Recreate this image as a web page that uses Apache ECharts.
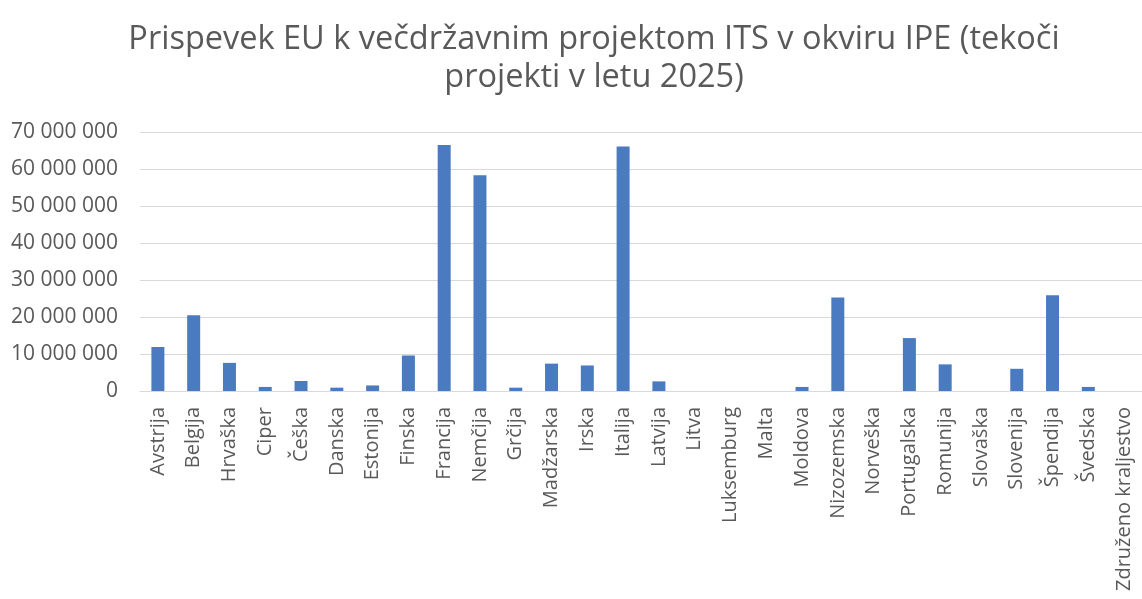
<!DOCTYPE html>
<html>
<head>
<meta charset="utf-8">
<script src="https://cdn.jsdelivr.net/npm/echarts@6/dist/echarts.min.js"></script>
<style>
  html, body { margin: 0; padding: 0; background: #fff; }
  #chart { width: 1142px; height: 599px; }
</style>
</head>
<body>
<div id="chart"></div>
<script>
const titleText = "Prispevek EU k večdržavnim projektom ITS v okviru IPE (tekoči\nprojekti v letu 2025)";

const countries = [
  "Avstrija", "Belgija", "Hrvaška", "Ciper", "Češka", "Danska", "Estonija",
  "Finska", "Francija", "Nemčija", "Grčija", "Madžarska", "Irska", "Italija",
  "Latvija", "Litva", "Luksemburg", "Malta", "Moldova", "Nizozemska",
  "Norveška", "Portugalska", "Romunija", "Slovaška", "Slovenija", "Špendija",
  "Švedska", "Združeno kraljestvo"
];

const contribution = [
  11900000, 20500000, 7600000, 1100000, 2700000, 900000, 1500000,
  9600000, 66500000, 58300000, 900000, 7400000, 6900000, 66100000,
  2600000, 0, 0, 0, 1100000, 25300000,
  0, 14300000, 7200000, 0, 6000000, 25900000,
  1100000, 0
];

const yMax = 70000000;
const yStep = 10000000;

const fmt = v => String(v).replace(/\B(?=(\d{3})+(?!\d))/g, " ");

const chart = echarts.init(document.getElementById("chart"));
chart.setOption({
  animation: false,
  textStyle: { fontFamily: "Open Sans" },
  title: {
    text: titleText,
    left: 589,
    top: 16,
    textAlign: "center",
    textStyle: {
      fontFamily: "Open Sans",
      fontSize: 32.5,
      fontWeight: "normal",
      color: "#595959",
      lineHeight: 38
    }
  },
  grid: {
    left: 140,
    top: 132,
    width: 1008,
    height: 259,
    containLabel: false
  },
  xAxis: {
    type: "category",
    data: countries,
    axisLine: { lineStyle: { color: "#d9d9d9", width: 1 } },
    axisTick: { show: false },
    axisLabel: {
      rotate: 90,
      interval: 0,
      margin: 16,
      color: "#595959",
      fontSize: 20,
      fontFamily: "Open Sans"
    }
  },
  yAxis: {
    type: "value",
    min: 0,
    max: yMax,
    interval: yStep,
    axisLine: { show: false },
    axisTick: { show: false },
    splitLine: { lineStyle: { color: "#d9d9d9", width: 1 } },
    axisLabel: {
      color: "#595959",
      fontSize: 21,
      margin: 22,
      fontFamily: "Open Sans",
      formatter: fmt
    }
  },
  series: [{
    type: "bar",
    data: contribution,
    barWidth: 13,
    itemStyle: { color: "#4a7bc1" }
  }]
});
</script>
</body>
</html>
